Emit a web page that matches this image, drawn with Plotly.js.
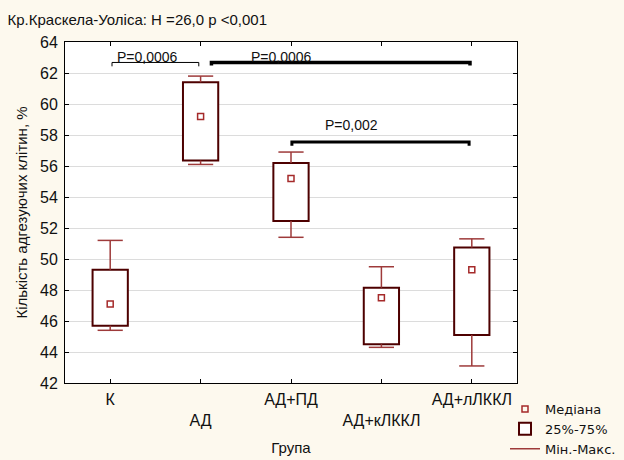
<!DOCTYPE html>
<html>
<head>
<meta charset="utf-8">
<script src="https://cdn.plot.ly/plotly-3.0.1.min.js"></script>
<style>html,body{margin:0;padding:0;background:#fdf9ee;}</style>
</head>
<body>
<div id="chart" style="width:624px;height:460px;"></div>
<script>
// ---- data ----
const categories = ['К', 'АД', 'АД+ПД', 'АД+кЛККЛ', 'АД+лЛККЛ'];
const minVals    = [45.4, 56.1, 51.4, 44.3, 43.1];
const q1Vals     = [45.7, 56.35, 52.45, 44.5, 45.1];
const medianVals = [47.1, 59.2, 55.2, 47.5, 49.3];
const q3Vals     = [49.3, 61.4, 56.2, 48.15, 50.75];
const maxVals    = [51.2, 61.8, 56.9, 49.5, 51.3];

// significance brackets (category-index positions and y values)
const bracketLabels = ['P=0,0006', 'P=0,0006', 'P=0,002'];
const bracketFrom   = [0.02, 1.12, 2.01];
const bracketTo     = [0.98, 3.98, 3.97];
const bracketY      = [62.68, 62.68, 57.55];
const bracketDrop   = [0.25, 0.2, 0.25];
const labelX        = [0.41, 1.9, 2.67];
const labelY        = [63.05, 63.05, 58.65];
const bracketWidths = [1, 3.5, 3];

const titleText = 'Кр.Краскела-Уоліса: H =26,0 p <0,001';
const yTitle = 'Кількість адгезуючих клітин, %';
const xTitle = 'Група';
const legendNames = ['Медіана', '25%-75%', 'Мін.-Макс.'];

// ---- build ----
const idx = categories.map((c, i) => i);
const boxColor = '#4d0000';
const whiskerColor = '#9e3a3a';
const medColor = '#a52a2a';
const font = 'Arial, "Liberation Sans", sans-serif';
const wideFont = '"DejaVu Sans", sans-serif';

const traces = [];

// boxes (25%-75%)
traces.push({
  type: 'bar', x: idx, y: idx.map(i => q3Vals[i] - q1Vals[i]), base: q1Vals,
  width: 0.39, name: legendNames[1], legendrank: 2,
  marker: {color: '#ffffff', line: {color: boxColor, width: 2}},
  hoverinfo: 'skip'
});

// whisker lines
const wx = [], wy = [];
idx.forEach(i => {
  wx.push(i, i, null, i, i, null);
  wy.push(q3Vals[i], maxVals[i], null, minVals[i], q1Vals[i], null);
});
traces.push({
  type: 'scatter', mode: 'lines', x: wx, y: wy, name: legendNames[2], legendrank: 3,
  line: {color: whiskerColor, width: 1.5}, hoverinfo: 'skip'
});
// whisker caps
traces.push({
  type: 'scatter', mode: 'markers', x: idx.concat(idx), y: maxVals.concat(minVals),
  showlegend: false, hoverinfo: 'skip',
  marker: {symbol: 'line-ew', size: 18, color: whiskerColor, line: {color: whiskerColor, width: 1.5}}
});
// medians
traces.push({
  type: 'scatter', mode: 'markers', x: idx, y: medianVals, name: legendNames[0], legendrank: 1,
  marker: {symbol: 'square-open', size: 6, color: medColor, line: {color: medColor, width: 1.5}},
  hoverinfo: 'skip'
});

// brackets
bracketLabels.forEach((lab, k) => {
  traces.push({
    type: 'scatter', mode: 'lines', showlegend: false, hoverinfo: 'skip',
    x: [bracketFrom[k], bracketFrom[k], bracketTo[k], bracketTo[k]],
    y: [bracketY[k] - bracketDrop[k], bracketY[k], bracketY[k], bracketY[k] - bracketDrop[k]],
    line: {color: '#000000', width: bracketWidths[k]}
  });
});

const annotations = bracketLabels.map((lab, k) => ({
  x: labelX[k], y: labelY[k], xref: 'x', yref: 'y', text: lab, showarrow: false,
  font: {family: font, size: 14, color: '#111'}, xanchor: 'center', yanchor: 'middle'
}));

const layout = {
  width: 624, height: 460,
  paper_bgcolor: '#fdf9ee', plot_bgcolor: '#ffffff',
  margin: {l: 65, r: 107, t: 42, b: 77, autoexpand: false},
  font: {family: font, size: 14, color: '#111'},
  title: {text: titleText, xref: 'container', yref: 'container', x: 0.012, xanchor: 'left',
          y: 1 - 20 / 460, yanchor: 'middle', font: {family: font, size: 15, color: '#111'}},
  xaxis: {
    range: [-0.5, 4.5], tickvals: idx,
    ticktext: categories.map((c, i) => (i % 2 ? '<br>' + c : c)),
    showgrid: false, zeroline: false, showline: true, linecolor: '#000', linewidth: 1,
    mirror: 'ticks', ticks: 'inside', ticklen: 4, tickcolor: '#000', ticklabelstandoff: 2,
    tickfont: {family: font, size: 16, color: '#111'},
    title: {text: xTitle, font: {family: font, size: 15, color: '#111'}, standoff: 14}
  },
  yaxis: {
    range: [42, 64], dtick: 2, tick0: 42,
    showgrid: true, gridcolor: '#dcdcdc', gridwidth: 1, zeroline: false,
    showline: true, linecolor: '#000', linewidth: 1, mirror: 'ticks',
    ticks: 'inside', ticklen: 4, tickcolor: '#000', ticklabelstandoff: 3,
    tickfont: {family: font, size: 16, color: '#111'},
    title: {text: yTitle, font: {family: font, size: 15, color: '#111'}, standoff: 8}
  },
  showlegend: true,
  legend: {xref: 'container', yref: 'container', x: 505 / 624, xanchor: 'left',
           y: 1 - 394 / 460, yanchor: 'top', bgcolor: 'rgba(0,0,0,0)',
           font: {family: wideFont, size: 13, color: '#111'}, tracegroupgap: 0, itemwidth: 30},
  annotations: annotations,
  barmode: 'overlay'
};

Plotly.newPlot('chart', traces, layout, {displayModeBar: false, staticPlot: true});
</script>
</body>
</html>
